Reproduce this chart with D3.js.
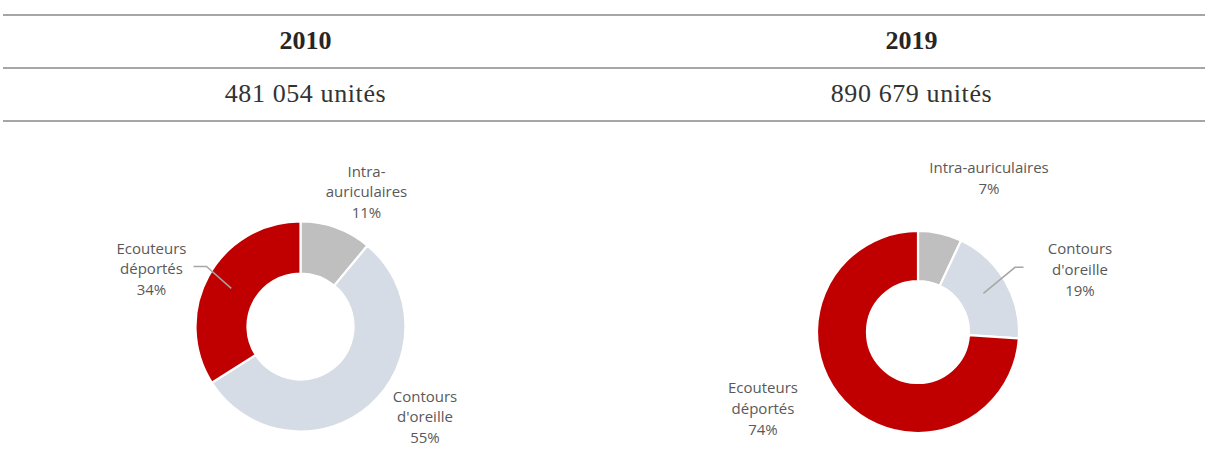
<!DOCTYPE html>
<html><head><meta charset="utf-8">
<script src="https://cdn.jsdelivr.net/npm/d3@7"></script>
<style>
body{margin:0;background:#fff;}
svg{display:block;}
</style></head>
<body>
<svg id="chart" width="1205" height="472"></svg>
<script>
// ---- data ----
const years = ["2010", "2019"];
const totals = ["481 054 unités", "890 679 unités"];
const categories = ["Intra-auriculaires", "Contours d'oreille", "Ecouteurs déportés"];
const values2010 = [11, 55, 34];
const values2019 = [7, 19, 74];
// label text lines per category for each year
const labelLines2010 = [["Intra-", "auriculaires"], ["Contours", "d'oreille"], ["Ecouteurs", "déportés"]];
const labelLines2019 = [["Intra-auriculaires"], ["Contours", "d'oreille"], ["Ecouteurs", "déportés"]];

// ---- style / layout ----
const colors = ["#bfbfbf", "#d6dce5", "#c00000"];
const svg = d3.select("#chart");

// header lines
[15, 68, 121].forEach(y => {
  svg.append("line").attr("x1", 3).attr("x2", 1205).attr("y1", y).attr("y2", y)
    .attr("stroke", "#a6a6a6").attr("stroke-width", 2);
});

const colX = [305.5, 911.5];
years.forEach((yr, i) => {
  svg.append("text").attr("x", colX[i]).attr("y", 48.5)
    .attr("text-anchor", "middle")
    .attr("font-family", "'Liberation Serif', serif")
    .attr("font-weight", "bold").attr("font-size", 26)
    .attr("fill", "#262626").text(yr);
  svg.append("text").attr("x", colX[i]).attr("y", 101.5)
    .attr("text-anchor", "middle")
    .attr("font-family", "'Liberation Serif', serif")
    .attr("font-size", 26).attr("letter-spacing", 0.6)
    .attr("fill", "#333333").text(totals[i]);
});

const charts = [
  {values: values2010, lines: labelLines2010, cx: 300.5, cy: 326.5, R: 105,
   // label anchors (x center, first baseline) relative to donut center
   labels: [[66, -150], [124.5, 75], [-149, -73]],
   leader: [null, null, {elbow: [-94, -60], end: [-107, -60]}]},
  {values: values2019, lines: labelLines2019, cx: 918, cy: 332, R: 101,
   labels: [[71, -159], [162, -78], [-155, 61]],
   leader: [null, {elbow: [97, -64.7], end: [105.5, -64.7]}, null]}
];

charts.forEach(c => {
  const g = svg.append("g").attr("transform", `translate(${c.cx},${c.cy})`);
  const pie = d3.pie().sort(null).value(d => d)(c.values);
  const arc = d3.arc().innerRadius(c.R * 0.505).outerRadius(c.R);
  g.selectAll("path.slice").data(pie).join("path")
    .attr("class", "slice")
    .attr("d", arc)
    .attr("fill", (d, i) => colors[i])
    .attr("stroke", "#fff").attr("stroke-width", 2.2).attr("stroke-linejoin", "miter");

  pie.forEach((d, i) => {
    const ld = c.leader[i];
    if (ld) {
      const cen = arc.centroid(d);
      g.append("polyline")
        .attr("points", [cen, ld.elbow, ld.end].map(p => p.join(",")).join(" "))
        .attr("fill", "none").attr("stroke", "#a6a6a6").attr("stroke-width", 1.5);
    }
    const [lx, ly] = c.labels[i];
    const t = g.append("text").attr("text-anchor", "middle")
      .attr("font-family", "'Open Sans', sans-serif").attr("font-size", 15)
      .attr("fill", "#595959");
    const lines = c.lines[i].concat([d.data + "%"]);
    lines.forEach((s, k) => {
      t.append("tspan").attr("x", lx).attr("y", ly + k * 20.8).text(s);
    });
  });
});
</script>
</body></html>
